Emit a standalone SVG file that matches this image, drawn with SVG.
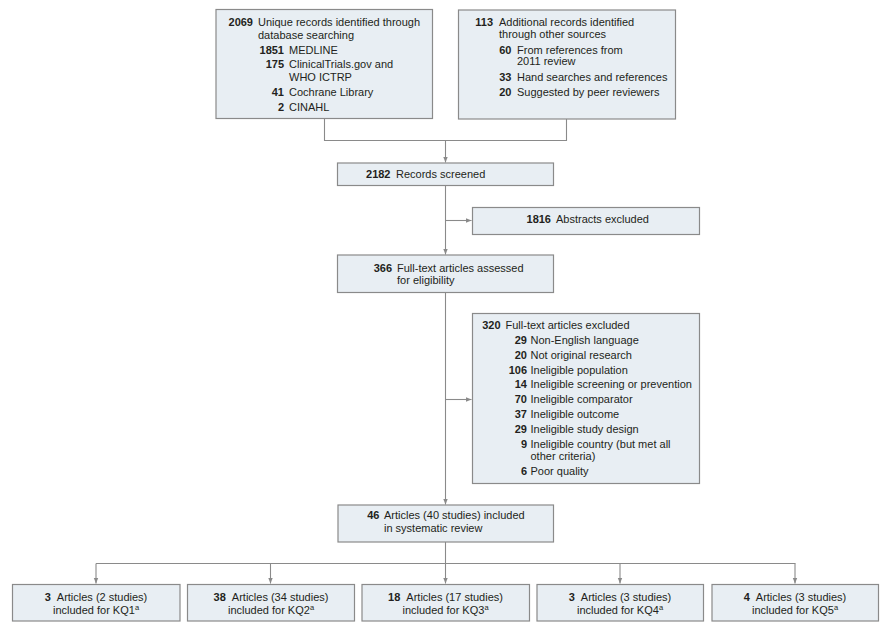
<svg xmlns="http://www.w3.org/2000/svg" width="891" height="629" viewBox="0 0 891 629">
<defs>
<style>
.box{fill:#e8eef3;stroke:#8a8a8a;stroke-width:1.2}
.c{fill:none;stroke:#8a8a8a;stroke-width:1.1}
text{font-family:"Liberation Sans",Arial,sans-serif;font-size:11px;fill:#231f20}
.n{font-weight:bold;text-anchor:end}
.m{text-anchor:middle}
.b{font-weight:bold}
.sup{font-size:7.5px}
</style>
<marker id="ah" viewBox="0 0 6 6" refX="6" refY="3" markerWidth="6" markerHeight="6" markerUnits="userSpaceOnUse" orient="auto">
<path d="M0,0.6 L6,3 L0,5.4 Z" fill="#8a8a8a"/>
</marker>
</defs>
<rect width="891" height="629" fill="#ffffff"/>

<g id="connectors">
<path class="c" d="M324.5 118.5 V140.5 H566.5 V118.5"/>
<path class="c" d="M445.5 140.5 V162.5" marker-end="url(#ah)"/>
<path class="c" d="M445.5 185.5 V254.5" marker-end="url(#ah)"/>
<path class="c" d="M445.5 220.5 H471.5" marker-end="url(#ah)"/>
<path class="c" d="M445.5 292.5 V504.5" marker-end="url(#ah)"/>
<path class="c" d="M445.5 399.5 H471.5" marker-end="url(#ah)"/>
<path class="c" d="M445.5 541.5 V563.5"/>
<path class="c" d="M96 563.5 H795.5"/>
<path class="c" d="M96 563.5 V583.5" marker-end="url(#ah)"/>
<path class="c" d="M270.5 563.5 V583.5" marker-end="url(#ah)"/>
<path class="c" d="M445.5 563.5 V583.5" marker-end="url(#ah)"/>
<path class="c" d="M620 563.5 V583.5" marker-end="url(#ah)"/>
<path class="c" d="M795 563.5 V583.5" marker-end="url(#ah)"/>
</g>

<g id="db-records">
<rect class="box" x="216" y="9.5" width="216.5" height="109"/>
<text x="253" y="26" class="n">2069</text>
<text x="258" y="26">Unique records identified through</text>
<text x="258" y="38.5">database searching</text>
<text x="284" y="54" class="n">1851</text>
<text x="289" y="54">MEDLINE</text>
<text x="284" y="67.5" class="n">175</text>
<text x="289" y="67.5">ClinicalTrials.gov and</text>
<text x="289" y="80.5">WHO ICTRP</text>
<text x="284" y="95.5" class="n">41</text>
<text x="289" y="95.5">Cochrane Library</text>
<text x="284" y="110.5" class="n">2</text>
<text x="289" y="110.5">CINAHL</text>
</g>

<g id="other-records">
<rect class="box" x="458.5" y="10" width="217" height="109"/>
<text x="493" y="26" class="n">113</text>
<text x="499" y="26">Additional records identified</text>
<text x="499" y="38">through other sources</text>
<text x="511.5" y="53.5" class="n">60</text>
<text x="517" y="53.5">From references from</text>
<text x="517" y="64.5">2011 review</text>
<text x="511.5" y="81" class="n">33</text>
<text x="517" y="81">Hand searches and references</text>
<text x="511.5" y="95.5" class="n">20</text>
<text x="517" y="95.5">Suggested by peer reviewers</text>
</g>

<g id="screened">
<rect class="box" x="337.5" y="163" width="216" height="22.5"/>
<text x="390.5" y="178" class="n">2182</text>
<text x="396" y="178">Records screened</text>
</g>

<g id="abstracts-excluded">
<rect class="box" x="472.5" y="207.5" width="227" height="27"/>
<text x="551" y="222.5" class="n">1816</text>
<text x="556" y="222.5">Abstracts excluded</text>
</g>

<g id="fulltext-assessed">
<rect class="box" x="337.5" y="255" width="216" height="37.5"/>
<text x="392" y="271.5" class="n">366</text>
<text x="397" y="271.5">Full-text articles assessed</text>
<text x="397" y="284">for eligibility</text>
</g>

<g id="fulltext-excluded">
<rect class="box" x="472.5" y="313.5" width="227" height="170"/>
<text x="500.5" y="329" class="n">320</text>
<text x="505.5" y="329">Full-text articles excluded</text>
<text x="527" y="343.5" class="n">29</text>
<text x="530.5" y="343.5">Non-English language</text>
<text x="527" y="358.5" class="n">20</text>
<text x="530.5" y="358.5">Not original research</text>
<text x="527" y="373.5" class="n">106</text>
<text x="530.5" y="373.5">Ineligible population</text>
<text x="527" y="388" class="n">14</text>
<text x="530.5" y="388">Ineligible screening or prevention</text>
<text x="527" y="403" class="n">70</text>
<text x="530.5" y="403">Ineligible comparator</text>
<text x="527" y="418" class="n">37</text>
<text x="530.5" y="418">Ineligible outcome</text>
<text x="527" y="432.5" class="n">29</text>
<text x="530.5" y="432.5">Ineligible study design</text>
<text x="527" y="447.5" class="n">9</text>
<text x="530.5" y="447.5">Ineligible country (but met all</text>
<text x="530.5" y="459.5">other criteria)</text>
<text x="527" y="474.5" class="n">6</text>
<text x="530.5" y="474.5">Poor quality</text>
</g>

<g id="included">
<rect class="box" x="338" y="505" width="215.5" height="37"/>
<text x="379.5" y="518.5" class="n">46</text>
<text x="384" y="518.5">Articles (40 studies) included</text>
<text x="384" y="531.5">in systematic review</text>
</g>

<g id="kq1">
<rect class="box" x="12.5" y="584.5" width="167.5" height="36.5"/>
<text x="96" y="601" class="m"><tspan class="b">3</tspan><tspan dx="6">Articles (2 studies)</tspan></text>
<text x="96" y="613.5" class="m">included for KQ1<tspan class="sup" dy="-4">a</tspan></text>
</g>

<g id="kq2">
<rect class="box" x="187.5" y="584.5" width="167" height="36.5"/>
<text x="271" y="601" class="m"><tspan class="b">38</tspan><tspan dx="6">Articles (34 studies)</tspan></text>
<text x="271" y="613.5" class="m">included for KQ2<tspan class="sup" dy="-4">a</tspan></text>
</g>

<g id="kq3">
<rect class="box" x="362" y="584.5" width="167.5" height="36.5"/>
<text x="445.5" y="601" class="m"><tspan class="b">18</tspan><tspan dx="6">Articles (17 studies)</tspan></text>
<text x="445.5" y="613.5" class="m">included for KQ3<tspan class="sup" dy="-4">a</tspan></text>
</g>

<g id="kq4">
<rect class="box" x="537" y="584.5" width="166.5" height="36.5"/>
<text x="620" y="601" class="m"><tspan class="b">3</tspan><tspan dx="6">Articles (3 studies)</tspan></text>
<text x="620" y="613.5" class="m">included for KQ4<tspan class="sup" dy="-4">a</tspan></text>
</g>

<g id="kq5">
<rect class="box" x="712" y="584.5" width="166.5" height="36.5"/>
<text x="795" y="601" class="m"><tspan class="b">4</tspan><tspan dx="6">Articles (3 studies)</tspan></text>
<text x="795" y="613.5" class="m">included for KQ5<tspan class="sup" dy="-4">a</tspan></text>
</g>
</svg>
